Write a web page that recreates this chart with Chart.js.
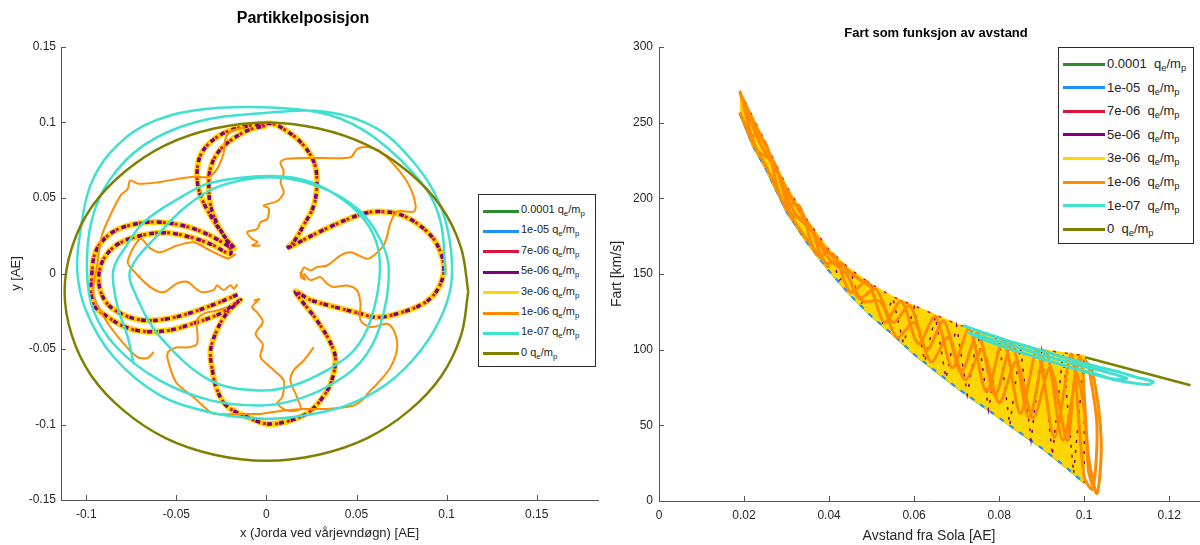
<!DOCTYPE html>
<html>
<head>
<meta charset="utf-8">
<script src="https://cdn.jsdelivr.net/npm/chart.js@4.4.0/dist/chart.umd.min.js"></script>
<style>
  body { margin: 0; background: #fff; font-family: "Liberation Sans", Arial, sans-serif; }
  #wrap { position: relative; width: 1200px; height: 545px; overflow: hidden; }
  .box { position: absolute; top: 0; width: 600px; height: 545px; }
  .title { position: absolute; font-weight: bold; color: #000; white-space: nowrap; transform: translateX(-50%); }
  .legend { position: absolute; border: 1px solid #2b2b2b; background: #fff; box-sizing: border-box; }
  .legend .row { position: absolute; white-space: nowrap; color: #222; line-height: 1; }
  .legend .sw { position: absolute; height: 3px; }
  .legend sub { font-size: 72%; vertical-align: -0.35em; line-height: 0; }
</style>
</head>
<body>
<div id="wrap">
  <div class="box" style="left:0"><canvas id="posChart" width="600" height="545"></canvas></div>
  <div class="box" style="left:600px"><canvas id="speedChart" width="600" height="545"></canvas></div>
  <div class="title" style="left:303px;top:9px;font-size:16px">Partikkelposisjon</div>
  <div class="title" style="left:936px;top:25px;font-size:13px">Fart som funksjon av avstand</div>
  <div class="legend" id="legLeft" style="left:478px;top:194px;width:118px;height:173px;font-size:11px"></div>
  <div class="legend" id="legRight" style="left:1058px;top:47px;width:136px;height:197px;font-size:13px"></div>
</div>
<script>
const family = '"Liberation Sans", Arial, Helvetica, sans-serif';
const axisColor = '#555555';
const textColor = '#262626';

// series (charge-to-mass ratios) and their colours
const chargeLabels = ['0.0001', '1e-05', '7e-06', '5e-06', '3e-06', '1e-06', '1e-07', '0'];
const chargeColors = ['#2e8b2e', '#1e90ff', '#dc143c', '#800080', '#ffd700', '#ff8c00', '#40e0d0', '#808000'];

// tick labels
const posXTicks = [-0.1, -0.05, 0, 0.05, 0.1, 0.15];
const posYTicks = [-0.15, -0.1, -0.05, 0, 0.05, 0.1, 0.15];
const speedXTicks = [0, 0.02, 0.04, 0.06, 0.08, 0.1, 0.12];
const speedYTicks = [0, 50, 100, 150, 200, 250, 300];

// ---- left plot: positions [AE] ----
// flower path shared by the strongly charged particles (1e-05 .. 3e-06)
const petalX = [0.0115, 0.0337, 0.052, 0.0615, 0.0744, 0.087, 0.0948, 0.0985, 0.0948, 0.0874, 0.0744, 0.0615, 0.0504, 0.0374, 0.0244, 0.0161,
  0.028, 0.0356, 0.0383, 0.0356, 0.030, 0.0226, 0.0115, 0.0004, -0.0107, -0.0218, -0.0274, -0.030, -0.031, -0.0274, -0.0218, -0.0144,
  -0.0256, -0.0404, -0.053, -0.066, -0.077, -0.0885, -0.096, -0.0968, -0.094, -0.085, -0.072, -0.059, -0.044, -0.031, -0.018,
  -0.0237, -0.031, -0.0367, -0.0385, -0.0367, -0.031, -0.0218, -0.0089, 0.0022, 0.0078, 0.019, 0.0263, 0.028, 0.0263, 0.0207, 0.0152, 0.0115,
  null,
  -0.016, -0.028, -0.042, -0.055, -0.068, -0.080, -0.089, -0.093, -0.091, -0.083, -0.070, -0.056, -0.042, -0.030, -0.020,
  -0.022, -0.027, -0.031, -0.032, -0.031, -0.027, -0.020, -0.010, 0.0];
const petalY = [0.0167, 0.030, 0.039, 0.041, 0.039, 0.030, 0.019, 0.003, -0.011, -0.0197, -0.026, -0.029, -0.026, -0.022, -0.0175, -0.012,
  -0.031, -0.046, -0.057, -0.073, -0.084, -0.0926, -0.098, -0.0996, -0.095, -0.088, -0.077, -0.064, -0.051, -0.0374, -0.026, -0.0175,
  -0.0265, -0.033, -0.0374, -0.0385, -0.036, -0.0285, -0.020, 0.0008, 0.0164, 0.0276, 0.033, 0.034, 0.031, 0.025, 0.0164,
  0.0252, 0.0384, 0.052, 0.065, 0.078, 0.087, 0.094, 0.098, 0.0993, 0.097, 0.087, 0.074, 0.061, 0.045, 0.032, 0.021, 0.0167,
  null,
  -0.014, -0.020, -0.026, -0.030, -0.031, -0.027, -0.019, -0.006, 0.008, 0.019, 0.025, 0.027, 0.024, 0.019, 0.013,
  0.022, 0.032, 0.045, 0.058, 0.070, 0.080, 0.088, 0.095, 0.098];

// 1e-06: wandering arms
const orangePosX = [-0.0033, -0.008, -0.005, -0.008, -0.0107, -0.005, -0.0033, 0.0004, 0.0013, -0.0015, 0.006, 0.0096, 0.0078, 0.0096, 0.0078, 0.0115, 0.030, 0.0467, 0.0504, 0.056, 0.0633, 0.0744, 0.080, 0.0828, 0.0818, 0.0726, 0.0689, 0.067, 0.065, 0.0596, 0.056, 0.0467, 0.041, 0.0337, 0.028, 0.0244, 0.021, 0.019, 0.0215, 0.0185,
  null,
  -0.017, -0.021, -0.0256, -0.033, -0.0404, -0.0496, -0.059, -0.0644, -0.070, -0.077, -0.0739, -0.0644, -0.057, -0.0496, -0.044, -0.0367, -0.0293, -0.0274, -0.0237, -0.020, -0.018, -0.016,
  null,
  -0.012, -0.020, -0.0228, -0.0237, -0.0274, -0.032, -0.0404, -0.050, -0.059, -0.071, -0.0756, -0.077, -0.081, -0.0867, -0.0913, -0.094, -0.096, -0.0904, -0.081, -0.072, -0.066, -0.0626,
  null,
  0.0207, 0.0244, 0.030, 0.0337, 0.0374, 0.0448, 0.0504, 0.0522, 0.0522, 0.0578, 0.067, 0.0707, 0.0726, 0.0689, 0.0615, 0.056, 0.054, 0.0485, 0.0337, 0.0207, 0.0078, -0.0033, -0.0107, -0.029, -0.033, -0.0404, -0.0496, -0.053, -0.055, -0.050, -0.044, -0.0385, -0.0385, -0.035, -0.0274, -0.0218,
  null,
  -0.007, -0.004, -0.008, -0.005, -0.002, -0.006, -0.002, -0.0033, 0.004, 0.0096, 0.0087, 0.006, 0.0115, 0.0189, 0.017, 0.0133, 0.0152, 0.0207, 0.0263];
const orangePosY = [0.0185, 0.0185, 0.0208, 0.023, 0.0274, 0.0296, 0.034, 0.036, 0.043, 0.045, 0.048, 0.0538, 0.0605, 0.067, 0.0737, 0.076, 0.0765, 0.077, 0.0826, 0.0837, 0.0806, 0.067, 0.0564, 0.0454, 0.041, 0.041, 0.034, 0.025, 0.0185, 0.0119, 0.0097, 0.014, 0.0119, 0.0053, 0.0042, 0.002, 0.004, -0.002, -0.004, 0.001,
  null,
  0.013, 0.010, 0.012, 0.0164, 0.0207, 0.0185, 0.014, 0.0166, 0.023, 0.008, 0.002, -0.009, -0.0124, -0.0065, -0.0055, -0.012, -0.011, -0.0078, -0.011, -0.0078, -0.010, -0.007,
  null,
  0.097, 0.094, 0.089, 0.080, 0.0693, 0.064, 0.064, 0.0625, 0.0606, 0.0594, 0.0616, 0.056, 0.0516, 0.0384, 0.0252, 0.005, -0.013, -0.0285, -0.044, -0.055, -0.056, -0.052,
  null,
  0.0, -0.0044, -0.0024, -0.0068, -0.009, -0.008, -0.0113, -0.020, -0.031, -0.0355, -0.0333, -0.0377, -0.0488, -0.062, -0.073, -0.0797, -0.083, -0.0874, -0.0897, -0.0897, -0.091, -0.093, -0.093, -0.093, -0.090, -0.082, -0.073, -0.064, -0.053, -0.049, -0.049, -0.0466, -0.031, -0.0267, -0.0245, -0.0223,
  null,
  -0.018, -0.017, -0.022, -0.026, -0.032, -0.040, -0.047, -0.0554, -0.064, -0.0709, -0.082, -0.086, -0.0907, -0.0897, -0.082, -0.0709, -0.064, -0.0576, -0.0488];

// 1e-07: precessing orbit
const turqPosX = [-0.0737, -0.077, -0.083, -0.085, -0.078, -0.068, -0.0496, -0.031, 0.0022, 0.0244, 0.0467, 0.0596, 0.063, 0.0578, 0.0485, 0.0337, 0.0152, -0.0033, -0.031, -0.059, -0.072, -0.0756, -0.0607, -0.044, -0.0256, 0.0022, 0.028, 0.0504, 0.063, 0.068, 0.063, 0.052, 0.0337, 0.0152, -0.0033, -0.031, -0.059, -0.083, -0.096, -0.0996, -0.097, -0.087, -0.068, -0.040, -0.005, 0.0337, 0.0615, 0.080, 0.093, 0.1004, 0.103, 0.0985, 0.0856, 0.067, 0.043, 0.0152, -0.0033, -0.031, -0.060, -0.085, -0.100, -0.105, -0.103, -0.0978, -0.0867, -0.068, -0.0404, 0.0022, 0.035, 0.060, 0.0874, 0.0967, 0.0994];
const turqPosY = [-0.060, -0.042, -0.020, 0.002, 0.018, 0.034, 0.049, 0.060, 0.0646, 0.0606, 0.045, 0.0252, 0.002, -0.031, -0.051, -0.064, -0.074, -0.0775, -0.071, -0.042, -0.0155, 0.002, 0.025, 0.045, 0.058, 0.0637, 0.058, 0.043, 0.023, 0.002, -0.035, -0.059, -0.075, -0.084, -0.0874, -0.084, -0.071, -0.049, -0.0245, 0.002, 0.035, 0.062, 0.085, 0.100, 0.106, 0.107, 0.096, 0.076, 0.054, 0.030, -0.001, -0.0245, -0.051, -0.073, -0.088, -0.095, -0.096, -0.092, -0.080, -0.055, -0.025, 0.002, 0.030, 0.058, 0.080, 0.098, 0.108, 0.110, 0.105, 0.090, 0.058, 0.034, -0.001];

// 0: uncharged orbit
const olivePosX = [0.112, 0.108, 0.097, 0.079, 0.056, 0.029, 0, -0.029, -0.056, -0.079, -0.097, -0.108, -0.112, -0.108, -0.097, -0.079, -0.056, -0.029, 0, 0.029, 0.056, 0.079, 0.097, 0.108, 0.112];
const olivePosY = [-0.012, 0.017, 0.044, 0.067, 0.085, 0.096, 0.100, 0.096, 0.085, 0.067, 0.044, 0.017, -0.012, -0.041, -0.068, -0.091, -0.109, -0.120, -0.124, -0.120, -0.109, -0.091, -0.068, -0.041, -0.012];

// ---- right plot: speed [km/s] vs distance [AE] ----
const bandDist = [0.019, 0.022, 0.025, 0.030, 0.035, 0.040, 0.045, 0.050, 0.055, 0.060, 0.065, 0.070, 0.075, 0.080, 0.085, 0.090, 0.095, 0.100];
const bandUpper = [271, 254, 237, 208, 185, 166, 153, 143, 135, 129, 123, 117, 112, 107, 103, 100, 98, 96];
const bandLower = [256, 235, 220, 191, 170, 152, 136, 122, 110, 97, 86, 75, 65, 55, 45, 35, 24, 12];

const purpleDist = [0.040, 0.0425, 0.045, 0.0475, 0.050, 0.0525, 0.055, 0.0575, 0.060, 0.0625, 0.065, 0.0675, 0.070, 0.0725, 0.075, 0.0775, 0.080, 0.0825, 0.085, 0.0875, 0.090, 0.0925, 0.095, 0.0975, 0.100, 0.100];
const purpleSpeed = [165, 146, 152, 130, 142, 117, 134, 104, 128, 92, 122, 81, 116, 70, 111, 60, 106, 50, 102, 40, 99, 30, 97, 18, 95, 12];

const orangeDist = [0.019, 0.023, 0.027, 0.031, 0.035, 0.039, 0.043, 0.047, 0.051, 0.055, 0.059, 0.063, 0.067, 0.071, 0.075, 0.079, 0.083, 0.087, 0.091, 0.095, 0.099, 0.101, 0.103, 0.104, 0.102, 0.100,
  null,
  0.021, 0.025, 0.029, 0.033, 0.037, 0.041, 0.045, 0.049, 0.053, 0.057, 0.061, 0.065, 0.069, 0.073, 0.077, 0.081, 0.085, 0.089, 0.093, 0.097, 0.100, 0.102, 0.103, 0.101,
  null,
  0.020, 0.024, 0.028, 0.032, 0.036, 0.040, 0.044, 0.048, 0.052, 0.056, 0.060, 0.064, 0.068, 0.072, 0.076, 0.080, 0.084, 0.088, 0.092, 0.096, 0.098, 0.100, 0.101, 0.102,
  null,
  0.019, 0.022, 0.025, 0.030, 0.035, 0.040, 0.045, 0.050,
  null,
  0.019, 0.022, 0.025, 0.030, 0.035, 0.040];
const orangeSpeed = [271, 232, 224, 190, 184, 158, 157, 134, 140, 118, 129, 100, 119, 85, 111, 70, 104, 55, 99, 40, 95, 30, 5, 40, 85, 94,
  null,
  243, 237, 198, 195, 163, 163, 138, 145, 118, 132, 104, 122, 88, 114, 72, 106, 58, 100, 42, 97, 16, 8, 50, 90,
  null,
  262, 235, 216, 190, 178, 160, 150, 132, 132, 108, 118, 92, 108, 80, 100, 65, 92, 55, 88, 40, 85, 60, 20, 10,
  null,
  270, 252, 235, 206, 183, 164, 151, 141,
  null,
  257, 237, 222, 193, 172, 154];

const turqDist = [0.0715, 0.076, 0.082, 0.088, 0.094, 0.100, 0.104, 0.1085, 0.112, 0.1162, 0.115, 0.1115, 0.106, 0.102, 0.097, 0.090, 0.083, 0.077, 0.073, 0.078, 0.085, 0.092, 0.099, 0.104, 0.108, 0.110, 0.107, 0.102, 0.098];
const turqSpeed = [116, 111.5, 106, 101, 96, 91, 88, 85, 82, 78.7, 77, 78, 81, 84.6, 88, 94, 100, 106, 111, 107, 101, 95, 89.5, 86, 83, 81, 80.5, 84, 87.5];

const oliveDist = [0.1002, 0.125];
const oliveSpeed = [95, 76.5];

// ---------------------------------------------------------------
const pts = (xs, ys) => xs.map((x, i) => ({ x: x, y: ys[i] }));
const fmt = v => String(Math.round(v * 1000) / 1000);

// MATLAB style ticks pointing into the axes
const innerTicks = {
  id: 'innerTicks',
  afterDraw(chart) {
    const { ctx, chartArea: a, scales: { x, y } } = chart;
    ctx.save();
    ctx.strokeStyle = axisColor;
    ctx.lineWidth = 1;
    ctx.beginPath();
    x.ticks.forEach(t => {
      const px = Math.round(x.getPixelForValue(t.value)) + 0.5;
      ctx.moveTo(px, a.bottom);
      ctx.lineTo(px, a.bottom - 5);
    });
    y.ticks.forEach(t => {
      const py = Math.round(y.getPixelForValue(t.value)) + 0.5;
      ctx.moveTo(a.left, py);
      ctx.lineTo(a.left + 5, py);
    });
    ctx.stroke();
    ctx.restore();
  }
};

function axis(min, max, ticks, title, titleSize, size, titlePad, tickPad) {
  return {
    type: 'linear',
    min: min,
    max: max,
    afterBuildTicks: s => { s.ticks = ticks.map(v => ({ value: v })); },
    afterFit: s => { if (s.isHorizontal()) s.height = size; else s.width = size; },
    grid: { display: false, drawTicks: false },
    border: { display: true, color: axisColor, width: 1 },
    ticks: { color: textColor, font: { family: family, size: 12 }, padding: tickPad, autoSkip: false, maxRotation: 0, callback: v => fmt(v) },
    title: { display: true, text: title, color: textColor, font: { family: family, size: titleSize }, padding: titlePad }
  };
}

function line(data, color, width, order, extra) {
  return Object.assign({
    data: data,
    showLine: true,
    borderColor: color,
    backgroundColor: color,
    borderWidth: width,
    pointRadius: 0,
    pointHoverRadius: 0,
    tension: 0.35,
    fill: false,
    order: order
  }, extra || {});
}

const basePlugins = { legend: { display: false }, tooltip: { enabled: false }, title: { display: false } };

const petal = pts(petalX, petalY);
new Chart(document.getElementById('posChart'), {
  type: 'scatter',
  data: {
    datasets: [
      line(petal, chargeColors[0], 2, 8),
      line(petal, chargeColors[1], 3, 6, { borderDash: [2, 10], borderDashOffset: 10 }),
      line(petal, chargeColors[2], 3, 5, { borderDash: [3, 9], borderDashOffset: 6 }),
      line(petal, chargeColors[3], 3.5, 4, { borderDash: [5, 7], borderDashOffset: 0 }),
      line(petal, chargeColors[4], 6, 7),
      line(pts(orangePosX, orangePosY), chargeColors[5], 2, 3, { tension: 0.3 }),
      line(pts(turqPosX, turqPosY), chargeColors[6], 2.5, 2),
      line(pts(olivePosX, olivePosY), chargeColors[7], 2.5, 1)
    ]
  },
  options: {
    responsive: false,
    animation: false,
    events: [],
    layout: { padding: { left: 0, right: 2, top: 47, bottom: 0 } },
    scales: {
      x: axis(-0.114, 0.184, posXTicks, 'x (Jorda ved vårjevndøgn) [AE]', 13, 45, { top: 0, bottom: 4 }, 7),
      y: axis(-0.15, 0.15, posYTicks, 'y [AE]', 13, 61, { top: 9, bottom: 0 }, 5)
    },
    plugins: basePlugins
  },
  plugins: [innerTicks]
});

new Chart(document.getElementById('speedChart'), {
  type: 'scatter',
  data: {
    datasets: [
      line(pts(bandDist, bandLower), chargeColors[0], 2, 9, { tension: 0 }),
      line(pts(bandDist, bandLower), chargeColors[1], 2, 7, { tension: 0, borderDash: [5, 7] }),
      line(pts(bandDist, bandUpper), chargeColors[2], 1.5, 6, { tension: 0, borderDash: [3, 9] }),
      line(pts(purpleDist, purpleSpeed), chargeColors[3], 1.5, 5, { tension: 0, borderDash: [3, 7] }),
      line(pts(bandDist.concat(bandDist.slice().reverse()), bandUpper.concat(bandLower.slice().reverse())), chargeColors[4], 1.5, 8, { tension: 0, fill: 'shape' }),
      line(pts(orangeDist, orangeSpeed), chargeColors[5], 3, 4, { tension: 0.3 }),
      line(pts(turqDist, turqSpeed), chargeColors[6], 3, 2, { tension: 0.3 }),
      line(pts(oliveDist, oliveSpeed), chargeColors[7], 2.5, 1, { tension: 0 })
    ]
  },
  options: {
    responsive: false,
    animation: false,
    events: [],
    layout: { padding: { left: 0, right: 1, top: 47, bottom: 0 } },
    scales: {
      x: axis(0, 0.127, speedXTicks, 'Avstand fra Sola [AE]', 14, 44, { top: 0, bottom: 0 }, 7),
      y: axis(0, 300, speedYTicks, 'Fart [km/s]', 14, 59, { top: 9, bottom: 0 }, 6)
    },
    plugins: basePlugins
  },
  plugins: [innerTicks]
});

// legends with subscripted q_e/m_p
function buildLegend(id, gap, startY, step, swLeft, swWidth, textLeft) {
  const el = document.getElementById(id);
  chargeLabels.forEach((lab, i) => {
    const cy = startY + i * step;
    const sw = document.createElement('div');
    sw.className = 'sw';
    sw.style.cssText = `left:${swLeft}px;top:${cy - 1.5}px;width:${swWidth}px;background:${chargeColors[i]}`;
    el.appendChild(sw);
    const row = document.createElement('div');
    row.className = 'row';
    row.style.cssText = `left:${textLeft}px;top:${cy - 7}px`;
    row.innerHTML = `${lab}${gap}q<sub>e</sub>/m<sub>p</sub>`;
    el.appendChild(row);
  });
}
buildLegend('legLeft', ' ', 16, 20.4, 4, 36, 42);
buildLegend('legRight', '&nbsp; ', 16, 23.6, 4, 42, 48);
</script>
</body>
</html>
